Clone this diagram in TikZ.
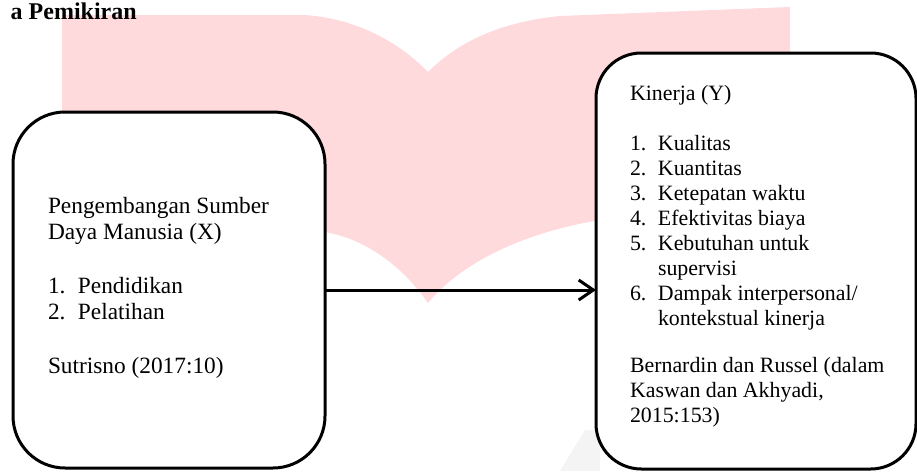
\documentclass[tikz,border=0pt]{standalone}
\usepackage{fontspec}
\setmainfont{Liberation Serif}
\usetikzlibrary{arrows.meta}
\definecolor{wmpink}{RGB}{255,218,220}
\definecolor{wmgray}{RGB}{244,244,244}
\tikzset{
  box/.style={draw=black, line width=2.25pt, fill=white, inner sep=0pt, outer sep=0pt},
  link/.style={draw=black, line width=2.25pt, -{Straight Barb[length=11pt,width=15pt,line width=2.25pt]}},
  txt/.style={anchor=base west, inner sep=0pt, outer sep=0pt}
}
\begin{document}
\begin{tikzpicture}[x=0.75pt, y=-0.75pt]
\useasboundingbox (0,0) rectangle (917,471);
% watermark
\fill[wmpink] (62,15) -- (305,15) .. controls (360,19) and (402,45) .. (428,72)
  .. controls (458,42) and (500,22) .. (560,16) -- (790,7) -- (790,215) -- (600,220)
  .. controls (510,235) and (455,270) .. (428,303)
  .. controls (405,270) and (370,240) .. (325,232) -- (62,232) -- cycle;
\fill[wmgray] (560,471) -- (585,430) -- (600,430) -- (600,471) -- cycle;
% boxes
\node[box, rounded corners=39pt, minimum width=234pt, minimum height=267pt] (X) at (169,290) {};
\node[box, rounded corners=34pt, minimum width=240pt, minimum height=312pt] (Y) at (756,261) {};
% connector
\draw[link] (X.east) -- (X.east -| Y.west);
% title
\node[anchor=base east, inner sep=0pt, font=\bfseries\fontsize{18}{22}\selectfont] (title) at (137,19) {a Pemikiran};
% texts
\node[txt, font=\fontsize{17.5}{20}\selectfont] (Xt) at (48,213) {%
\begin{tabular}[t]{@{}l@{}}
Pengembangan Sumber\\
Daya Manusia (X)\\
\\
\makebox[22.5pt][l]{1.}Pendidikan\\
\makebox[22.5pt][l]{2.}Pelatihan\\
\\
Sutrisno (2017:10)
\end{tabular}};
\node[txt, font=\fontsize{16.4}{18.75}\selectfont] (Yt) at (630,100) {%
\begin{tabular}[t]{@{}l@{}}
Kinerja (Y)\\
\\
\makebox[21pt][l]{1.}Kualitas\\
\makebox[21pt][l]{2.}Kuantitas\\
\makebox[21pt][l]{3.}Ketepatan waktu\\
\makebox[21pt][l]{4.}Efektivitas biaya\\
\makebox[21pt][l]{5.}Kebutuhan untuk\\
\hspace*{21pt}supervisi\\
\makebox[21pt][l]{6.}Dampak interpersonal/\\
\hspace*{21pt}kontekstual kinerja\\[-2pt]
\\
Bernardin dan Russel (dalam\\
Kaswan dan Akhyadi,\\
2015:153)
\end{tabular}};
\end{tikzpicture}
\end{document}
